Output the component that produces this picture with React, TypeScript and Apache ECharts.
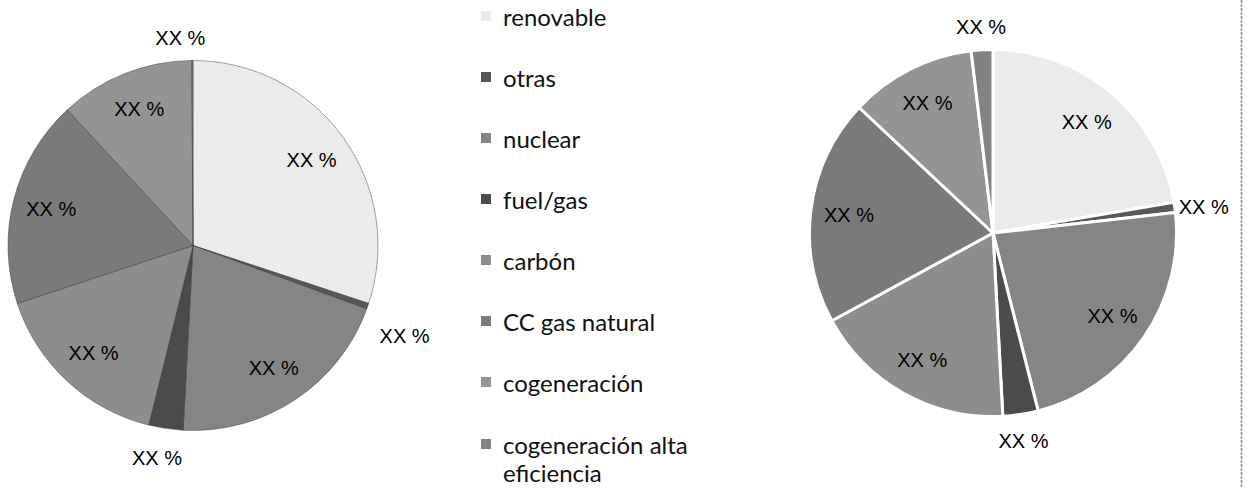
import React, { useEffect, useRef } from "react";
import * as echarts from "echarts";

// ---- data ----
const categories = [
  "renovable",
  "otras",
  "nuclear",
  "fuel/gas",
  "carbón",
  "CC gas natural",
  "cogeneración",
  "cogeneración alta eficiencia",
];
const leftValues = [30.1, 0.5, 20.3, 3.0, 16.1, 18.2, 11.8, 0.1];
const rightValues = [22.3, 0.9, 22.8, 3.1, 17.9, 19.9, 11.1, 1.9];
const sliceLabel = "XX %";
const outsideCategories = ["otras", "fuel/gas", "cogeneración alta eficiencia"];

// ---- styles ----
const colors = [
  "#ebebeb",
  "#585858",
  "#858585",
  "#4b4b4b",
  "#8d8d8d",
  "#7a7a7a",
  "#949494",
  "#838383",
];

const LEFT_C = [193, 245.5];
const LEFT_R = 185;
const RIGHT_C = [993, 233];
const RIGHT_R = 183.5;

const labelFont = {
  fontFamily: "Liberation Sans",
  fontSize: 20,
  color: "#000",
};

const leftOffsets: Record<string, number[]> = {
  otras: [6, 19],
  "fuel/gas": [-4, -3],
  "cogeneración alta eficiencia": [-12, 10],
};
const rightOffsets: Record<string, number[]> = {
  otras: [-3, 4],
  "fuel/gas": [-2, -5],
  "cogeneración alta eficiencia": [1, 9],
};

function basePie(values: number[], center: number[], r: number, border: any) {
  return {
    type: "pie",
    center,
    radius: [0, r],
    startAngle: 90,
    clockwise: true,
    silent: true,
    label: { show: false },
    labelLine: { show: false },
    emphasis: { disabled: true },
    itemStyle: border,
    data: categories.map((name, i) => ({
      name,
      value: values[i],
      itemStyle: { color: colors[i] },
    })),
  };
}

function labelPie(
  values: number[],
  center: number[],
  r: number,
  factor: number,
  outside: boolean,
  offsets: Record<string, number[]>
) {
  return {
    type: "pie",
    center,
    radius: [0, r * factor],
    startAngle: 90,
    clockwise: true,
    silent: true,
    z: 5,
    itemStyle: { color: "rgba(0,0,0,0)", borderWidth: 0 },
    emphasis: { disabled: true },
    labelLine: { show: false },
    label: {
      show: true,
      position: "inside",
      formatter: sliceLabel,
      ...labelFont,
    },
    data: categories.map((name, i) => {
      const isOut = outsideCategories.indexOf(name) >= 0;
      return {
        name,
        value: values[i],
        label: {
          show: isOut === outside,
          offset: (outside && offsets[name]) || [0, 0],
        },
      };
    }),
  };
}

export default function App() {
  const ref = useRef<HTMLDivElement>(null);

  useEffect(() => {
    if (!ref.current) return;
    document.body.style.margin = "0";
    const chart = echarts.init(ref.current, null, { renderer: "svg" });
    const legendText = {
      fontFamily: "Lato",
      fontSize: 24,
      color: "#111",
    };
    chart.setOption({
      animation: false,
      backgroundColor: "#fff",
      color: colors,
      tooltip: { show: false },
      legend: [
        {
          orient: "vertical",
          left: 481,
          top: 1,
          padding: 0,
          itemWidth: 10,
          itemHeight: 10,
          itemGap: 31,
          icon: "rect",
          itemStyle: { borderWidth: 0 },
          selectedMode: false,
          data: categories.slice(0, 7),
          textStyle: { ...legendText, lineHeight: 30, padding: [0, 0, 0, 7] },
        },
        {
          orient: "vertical",
          left: 481,
          top: 430,
          padding: 0,
          itemWidth: 10,
          itemHeight: 38,
          icon: "path://M0,0L10,0L10,10L0,10Z M0,37.99L0.01,37.99L0.01,38L0,38Z",
          itemStyle: { borderWidth: 0 },
          selectedMode: false,
          data: categories.slice(7),
          formatter: (name: string) => name.replace(" eficiencia", "\neficiencia"),
          textStyle: { ...legendText, lineHeight: 28, padding: [0, 0, 0, 7] },
        },
      ],
      graphic: [
        {
          type: "line",
          silent: true,
          shape: { x1: 1241.5, y1: 0, x2: 1241.5, y2: 487 },
          style: { stroke: "#8c8c8c", lineWidth: 1.5, lineDash: [3, 1] },
        },
      ],
      series: [
        basePie(leftValues, LEFT_C, LEFT_R, {
          borderColor: "rgba(50,50,50,0.55)",
          borderWidth: 0.8,
        }),
        basePie(rightValues, RIGHT_C, RIGHT_R, {
          borderColor: "#ffffff",
          borderWidth: 3,
        }),
        labelPie(leftValues, LEFT_C, LEFT_R, 1.55, false, leftOffsets),
        labelPie(leftValues, LEFT_C, LEFT_R, 2.32, true, leftOffsets),
        labelPie(rightValues, RIGHT_C, RIGHT_R, 1.55, false, rightOffsets),
        labelPie(rightValues, RIGHT_C, RIGHT_R, 2.32, true, rightOffsets),
      ],
    });
    return () => chart.dispose();
  }, []);

  return <div ref={ref} style={{ width: 1248, height: 492 }} />;
}
